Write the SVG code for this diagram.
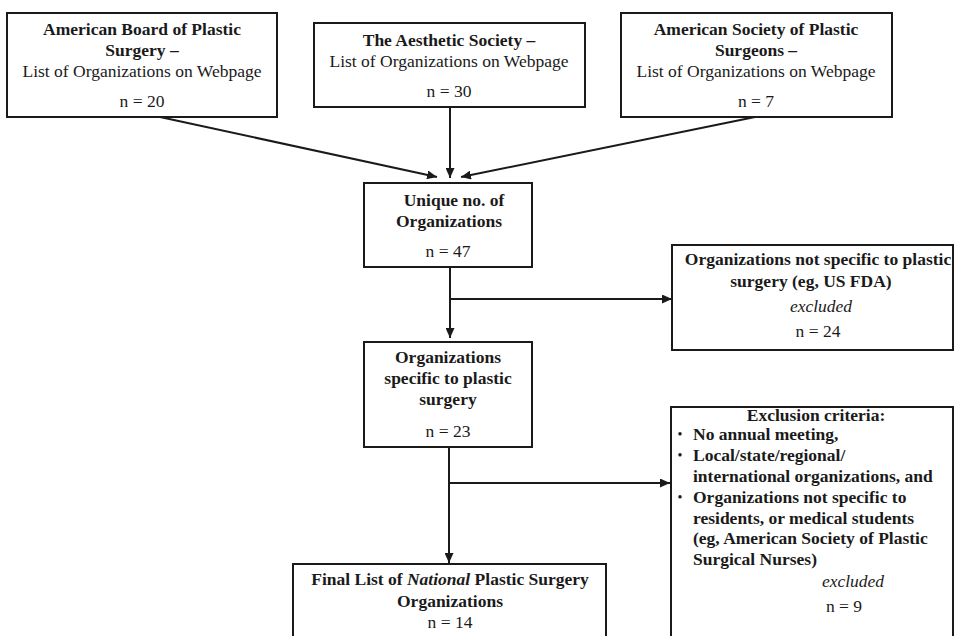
<svg xmlns="http://www.w3.org/2000/svg" width="957" height="636" viewBox="0 0 957 636">
<style>
.box{fill:#fff;stroke:#1a1a1a;stroke-width:2}
.t{font-family:"Liberation Serif","Times New Roman",serif;font-size:17.5px;fill:#1a1a1a;text-anchor:middle}
.b{font-weight:bold}
.i{font-style:italic}
.l{text-anchor:start}
.bu{font-size:14px}
.c{fill:none;stroke:#1a1a1a;stroke-width:2}
</style>
<defs>
<marker id="ah" markerUnits="userSpaceOnUse" markerWidth="10" markerHeight="9" refX="10" refY="4.5" orient="auto">
<path d="M0,0 L10,4.5 L0,9 z" fill="#1a1a1a"/>
</marker>
</defs>
<rect width="957" height="636" fill="#fff"/>
<g id="connectors">
<line class="c" x1="160" y1="117" x2="437" y2="177" marker-end="url(#ah)"/>
<line class="c" x1="450" y1="107" x2="450" y2="178" marker-end="url(#ah)"/>
<line class="c" x1="755" y1="117" x2="461" y2="177" marker-end="url(#ah)"/>
<line class="c" x1="450" y1="267" x2="450" y2="338" marker-end="url(#ah)"/>
<line class="c" x1="450" y1="299" x2="672" y2="299" marker-end="url(#ah)"/>
<line class="c" x1="449" y1="447" x2="449" y2="563" marker-end="url(#ah)"/>
<line class="c" x1="449" y1="483" x2="670" y2="483" marker-end="url(#ah)"/>
</g>
<g id="abps">
<rect class="box" x="7" y="13" width="270" height="104"/>
<text class="t b" x="142" y="35">American Board of Plastic</text>
<text class="t b" x="142" y="56">Surgery –</text>
<text class="t" x="142" y="77">List of Organizations on Webpage</text>
<text class="t" x="142" y="107">n = 20</text>
</g>
<g id="aesthetic">
<rect class="box" x="314" y="23" width="271" height="84"/>
<text class="t b" x="449" y="45.5">The Aesthetic Society –</text>
<text class="t" x="449" y="66.5">List of Organizations on Webpage</text>
<text class="t" x="449" y="97">n = 30</text>
</g>
<g id="asps">
<rect class="box" x="621" y="13" width="271" height="104"/>
<text class="t b" x="756" y="35">American Society of Plastic</text>
<text class="t b" x="756" y="56">Surgeons –</text>
<text class="t" x="756" y="77">List of Organizations on Webpage</text>
<text class="t" x="756" y="107">n = 7</text>
</g>
<g id="unique">
<rect class="box" x="364" y="183" width="168" height="84"/>
<text class="t b" x="454" y="206">Unique no. of</text>
<text class="t b" x="449" y="227">Organizations</text>
<text class="t" x="448" y="257">n = 47</text>
</g>
<g id="notspecific">
<rect class="box" x="672" y="245" width="281" height="105"/>
<text class="t b" x="818" y="265">Organizations not specific to plastic</text>
<text class="t b" x="811" y="287">surgery (eg, US FDA)</text>
<text class="t i" x="821" y="312">excluded</text>
<text class="t" x="818" y="337">n = 24</text>
</g>
<g id="specific">
<rect class="box" x="364" y="342" width="168" height="105"/>
<text class="t b" x="448" y="363">Organizations</text>
<text class="t b" x="448" y="384">specific to plastic</text>
<text class="t b" x="448" y="405">surgery</text>
<text class="t" x="448" y="437">n = 23</text>
</g>
<g id="exclusion">
<rect class="box" x="671" y="407" width="282" height="240"/>
<text class="t b" x="816" y="420.5">Exclusion criteria:</text>
<text class="t bu" x="680" y="439">•</text>
<text class="t b l" x="693" y="440">No annual meeting,</text>
<text class="t bu" x="680" y="460">•</text>
<text class="t b l" x="693" y="461">Local/state/regional/</text>
<text class="t b l" x="693" y="482">international organizations, and</text>
<text class="t bu" x="680" y="502">•</text>
<text class="t b l" x="693" y="503">Organizations not specific to</text>
<text class="t b l" x="693" y="523.5">residents, or medical students</text>
<text class="t b l" x="693" y="544">(eg, American Society of Plastic</text>
<text class="t b l" x="693" y="565">Surgical Nurses)</text>
<text class="t i" x="853" y="586.5">excluded</text>
<text class="t" x="844" y="611.5">n = 9</text>
</g>
<g id="final">
<rect class="box" x="293" y="564" width="313" height="90"/>
<text class="t b" x="450" y="585">Final List of <tspan class="i">National</tspan> Plastic Surgery</text>
<text class="t b" x="450" y="607">Organizations</text>
<text class="t" x="450" y="628">n = 14</text>
</g>
</svg>
